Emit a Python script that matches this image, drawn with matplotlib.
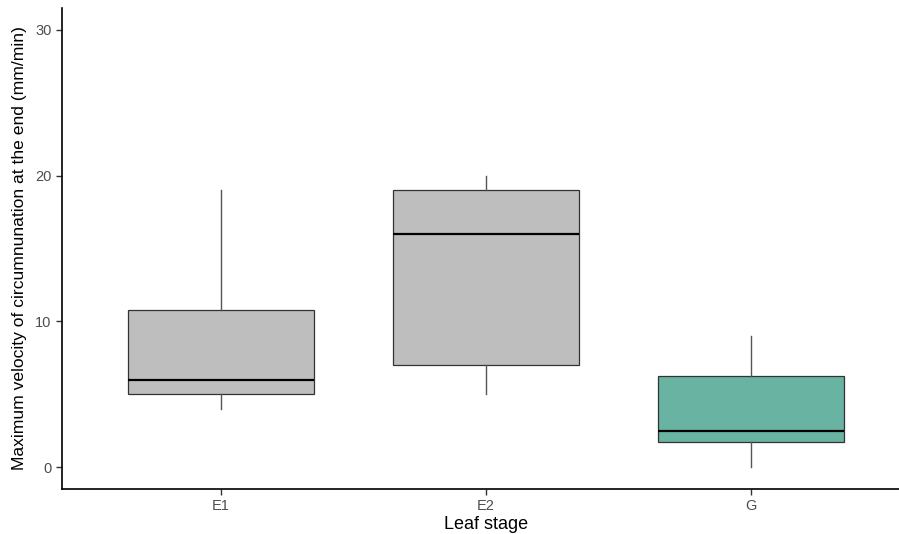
import matplotlib
matplotlib.use("Agg")
import matplotlib.pyplot as plt

plt.rcParams["font.family"] = ["Liberation Sans", "DejaVu Sans"]

categories = ["E1", "E2", "G"]
whisker_low = [4, 5, 0]
q1 = [5, 7, 1.75]
medians = [6, 16, 2.5]
q3 = [10.75, 19, 6.25]
whisker_high = [19, 20, 9]
fill_colors = ["#BEBEBE", "#BEBEBE", "#69B3A2"]
y_ticks = [0, 10, 20, 30]

fig = plt.figure(figsize=(8.99, 5.34), dpi=100)
ax = fig.add_axes([62/899, 45/534, 848/899, 481/534])

stats = []
for i, c in enumerate(categories):
    stats.append(dict(label=c, whislo=whisker_low[i], q1=q1[i], med=medians[i],
                      q3=q3[i], whishi=whisker_high[i], fliers=[]))
positions = list(range(1, len(categories) + 1))
bp = ax.bxp(stats, positions=positions, widths=0.7, patch_artist=True,
            showcaps=False,
            boxprops=dict(edgecolor="#333333", linewidth=0.9),
            whiskerprops=dict(color="#555555", linewidth=1.0),
            medianprops=dict(color="black", linewidth=1.6))
for patch, col in zip(bp["boxes"], fill_colors):
    patch.set_facecolor(col)

ax.set_xlim(0.4, len(categories) + 0.6)
ax.set_ylim(-1.5, 31.5)
ax.set_yticks(y_ticks)
ax.set_xticks(positions)
ax.set_xticklabels(categories)

for s in ["top", "right"]:
    ax.spines[s].set_visible(False)
for s in ["left", "bottom"]:
    ax.spines[s].set_linewidth(1.2)
    ax.spines[s].set_color("black")
ax.tick_params(axis="both", colors="#333333", labelcolor="#4D4D4D",
               labelsize=10.5, length=4, width=1)
ax.set_xlabel("Leaf stage", fontsize=13, color="black", labelpad=2)
ax.set_ylabel("Maximum velocity of circumnunation at the end (mm/min)",
              fontsize=12.6, color="black", labelpad=6)

fig.savefig("out.png", dpi=100)
